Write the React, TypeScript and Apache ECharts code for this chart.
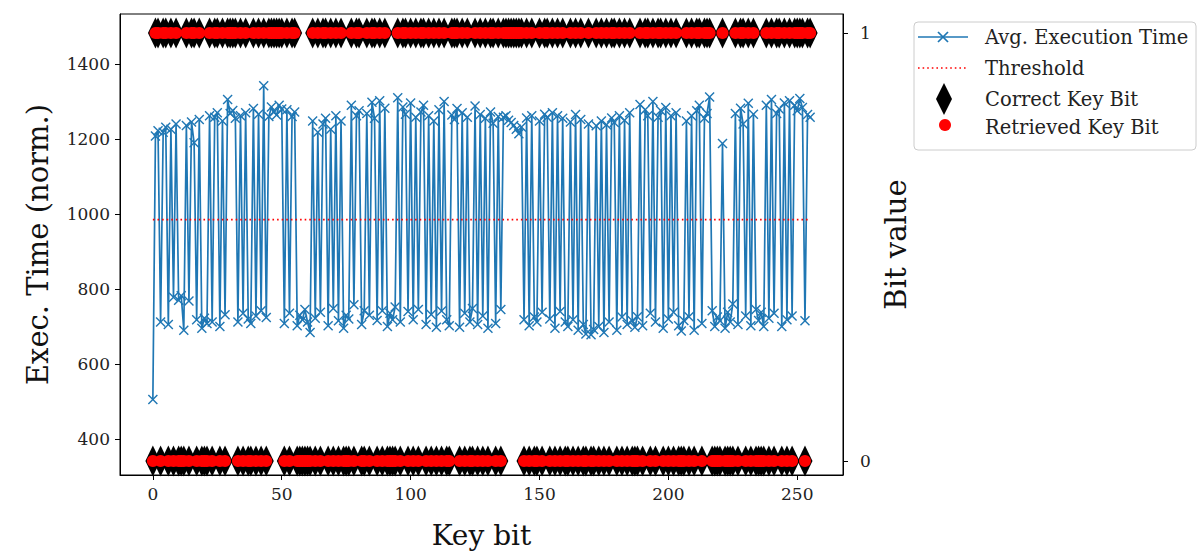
import React, { useEffect, useRef } from "react";
import * as echarts from "echarts";

const keyBits: number[] = [
  0,1,1,0,1,1,0,1,0,1,0,0,0,1,0,1,
  1,0,1,0,0,0,1,0,1,1,0,1,0,1,1,1,
  1,0,1,0,1,0,0,1,0,1,0,1,0,1,1,1,
  1,1,1,0,1,0,1,1,0,0,0,0,0,0,1,0,
  1,0,1,1,0,1,0,1,0,1,0,0,0,1,0,1,
  1,0,0,1,0,1,1,0,1,0,1,0,0,0,0,1,
  0,1,1,0,1,0,1,0,1,1,0,1,0,1,0,1,
  0,1,0,0,1,1,1,0,1,0,1,0,0,1,0,1,
  0,1,0,1,1,0,1,0,1,1,1,1,1,1,1,1,
  0,1,0,1,0,0,1,0,1,1,0,1,0,1,0,1,
  0,0,1,0,1,0,1,0,0,1,0,0,1,0,1,0,
  1,0,1,1,0,1,0,1,0,1,0,0,0,1,0,1,
  1,0,1,0,1,1,0,1,0,1,0,1,0,0,0,1,
  0,1,0,1,1,0,1,1,1,0,0,0,0,1,0,0,
  0,0,1,0,1,1,0,1,0,1,0,0,0,0,1,0,
  1,0,1,1,0,1,0,1,0,1,1,1,1,0,1,1,
];

const execTimes: number[] = [
  505,1208,1222,712,1218,1231,705,1226,778,1240,770,782,690,1236,768,1245,
  1190,718,1252,695,722,708,1262,712,1258,1270,700,1248,731,1305,1268,1276,
  1255,712,1262,735,1270,720,708,1281,728,1266,742,1342,724,1260,1285,1272,
  1264,1290,1280,708,1278,735,1260,1272,702,730,718,745,712,684,1248,722,
  1218,738,1240,1255,702,1226,748,1262,715,1248,695,730,720,1290,758,1262,
  1275,705,742,1268,730,1298,1255,716,1302,742,1282,700,735,718,752,1310,
  712,1285,1266,740,1296,718,1258,745,1272,1290,705,1262,732,1248,698,1278,
  741,1300,718,702,1264,1252,1281,698,1270,735,1258,712,748,1288,705,1265,
  728,1255,695,1272,1242,708,1260,745,1258,1262,1250,1244,1236,1226,1214,1232,
  718,1256,702,1262,725,712,1248,738,1266,1258,720,1270,695,1262,740,1255,
  712,700,1245,718,1265,690,1252,705,680,1240,678,692,1235,700,1248,684,
  1238,712,1256,1244,690,1262,725,1250,705,1270,715,698,726,1292,702,1278,
  1262,735,1300,712,1258,1276,695,1284,720,1262,738,1270,702,688,716,1248,
  726,1262,690,1275,1290,708,1255,1268,1312,742,700,725,715,1188,695,738,
  712,760,1268,705,1282,1240,728,1295,702,1266,745,716,738,700,1290,722,
  1305,735,1268,1280,700,1296,718,1302,728,1290,1275,1308,1284,715,1265,1258,
];

const retrievedBits: number[] = keyBits.slice();
const thresholdValue = 985;
const xTicks: number[] = [0, 50, 100, 150, 200, 250];
const yTicks: number[] = [400, 600, 800, 1000, 1200, 1400];
const bitTicks: number[] = [0, 1];
const legendNames: string[] = [
  "Avg. Execution Time",
  "Threshold",
  "Correct Key Bit",
  "Retrieved Key Bit",
];

const FONT = "DejaVu Serif";
const BLUE = "#1f77b4";
const X_SYMBOL =
  "path://M0,1 L1,0 L5,4 L9,0 L10,1 L6,5 L10,9 L9,10 L5,6 L1,10 L0,9 L4,5 Z";

const plain = (v: number) => String(v);

export default function App() {
  const ref = useRef<HTMLDivElement>(null);
  useEffect(() => {
    if (!ref.current) return;
    const chart = echarts.init(ref.current, undefined, { renderer: "svg" });
    const timeData = execTimes.map((v, i) => [i, v]);
    const correctData = keyBits.map((b, i) => [i, b]);
    const retrievedData = retrievedBits.map((b, i) => [i, b]);
    const n = execTimes.length;
    const lx = 918;
    const rows = [37, 68, 99, 127];
    const axisCommon = {
      splitLine: { show: false },
      axisLine: { show: true, onZero: false, lineStyle: { color: "#000" } },
    };
    chart.setOption({
      animation: false,
      backgroundColor: "#fff",
      textStyle: { fontFamily: FONT },
      grid: { left: 120, right: 360, top: 14, bottom: 79, show: true, borderColor: "#000", borderWidth: 1 },
      xAxis: {
        type: "value",
        min: -12.75,
        max: 267.75,
        ...axisCommon,
        axisTick: { show: true, length: 5, customValues: xTicks, lineStyle: { color: "#000" } },
        axisLabel: { customValues: xTicks, formatter: plain, color: "#222", fontSize: 17, fontFamily: FONT, margin: 10 },
        name: "Key bit",
        nameLocation: "middle",
        nameGap: 46,
        nameTextStyle: { fontSize: 28, fontFamily: FONT, color: "#111" },
      },
      yAxis: [
        {
          type: "value",
          min: 304,
          max: 1533.3,
          ...axisCommon,
          axisTick: { show: true, length: 5, customValues: yTicks, lineStyle: { color: "#000" } },
          axisLabel: { customValues: yTicks, formatter: plain, color: "#222", fontSize: 17, fontFamily: FONT, margin: 10 },
          name: "Exec. Time (norm.)",
          nameLocation: "middle",
          nameGap: 68,
          nameRotate: 90,
          nameTextStyle: { fontSize: 29, fontFamily: FONT, color: "#111" },
        },
        {
          type: "value",
          position: "right",
          min: -0.0327,
          max: 1.0444,
          ...axisCommon,
          axisTick: { show: true, length: 5, customValues: bitTicks, lineStyle: { color: "#000" } },
          axisLabel: { customValues: bitTicks, formatter: plain, color: "#222", fontSize: 17, fontFamily: FONT, margin: 17 },
          name: "Bit value",
          nameLocation: "middle",
          nameGap: 38,
          nameRotate: 90,
          nameTextStyle: { fontSize: 29, fontFamily: FONT, color: "#111" },
        },
      ],
      series: [
        {
          name: legendNames[0],
          type: "line",
          data: timeData,
          yAxisIndex: 0,
          symbol: X_SYMBOL,
          symbolSize: 10,
          showAllSymbol: true,
          lineStyle: { color: BLUE, width: 1.7 },
          itemStyle: { color: BLUE },
          z: 2,
        },
        {
          name: legendNames[1],
          type: "line",
          data: [[0, thresholdValue], [n - 1, thresholdValue]],
          yAxisIndex: 0,
          symbol: "none",
          lineStyle: { color: "#ff0000", width: 1.6, type: [1.6, 3] },
          z: 3,
        },
        {
          name: legendNames[2],
          type: "scatter",
          data: correctData,
          yAxisIndex: 1,
          symbol: "diamond",
          symbolSize: [15, 31],
          itemStyle: { color: "#000", opacity: 1 },
          z: 4,
        },
        {
          name: legendNames[3],
          type: "scatter",
          data: retrievedData,
          yAxisIndex: 1,
          symbol: "circle",
          symbolSize: 12,
          itemStyle: { color: "#ff0000", opacity: 1 },
          z: 5,
        },
      ],
      graphic: [
        {
          type: "rect",
          shape: { x: 914, y: 22, width: 282, height: 128, r: 4 },
          style: { fill: "#fff", stroke: "#cccccc", lineWidth: 1 },
          z: 10,
        },
        { type: "line", shape: { x1: lx, y1: rows[0], x2: lx + 50, y2: rows[0] }, style: { stroke: BLUE, lineWidth: 1.7 }, z: 11 },
        { type: "line", shape: { x1: lx + 20, y1: rows[0] - 5, x2: lx + 30, y2: rows[0] + 5 }, style: { stroke: BLUE, lineWidth: 1.7 }, z: 11 },
        { type: "line", shape: { x1: lx + 20, y1: rows[0] + 5, x2: lx + 30, y2: rows[0] - 5 }, style: { stroke: BLUE, lineWidth: 1.7 }, z: 11 },
        { type: "line", shape: { x1: lx, y1: rows[1], x2: lx + 50, y2: rows[1] }, style: { stroke: "#ff0000", lineWidth: 1.6, lineDash: [1.6, 3] }, z: 11 },
        {
          type: "polygon",
          shape: { points: [[lx + 26, rows[2] - 16], [lx + 34, rows[2]], [lx + 26, rows[2] + 16], [lx + 18, rows[2]]] },
          style: { fill: "#000" },
          z: 11,
        },
        { type: "circle", shape: { cx: lx + 27, cy: rows[3] - 2, r: 6 }, style: { fill: "#ff0000" }, z: 11 },
        ...legendNames.map((t, i) => ({
          type: "text",
          x: 985,
          y: rows[i],
          style: { text: t, fill: "#222", font: `19.5px "${FONT}"`, textVerticalAlign: "middle", verticalAlign: "middle" },
          z: 11,
        })),
      ],
    });
    return () => chart.dispose();
  }, []);
  return (
    <div
      ref={ref}
      style={{ position: "absolute", left: 0, top: 0, width: 1203, height: 554 }}
    />
  );
}
